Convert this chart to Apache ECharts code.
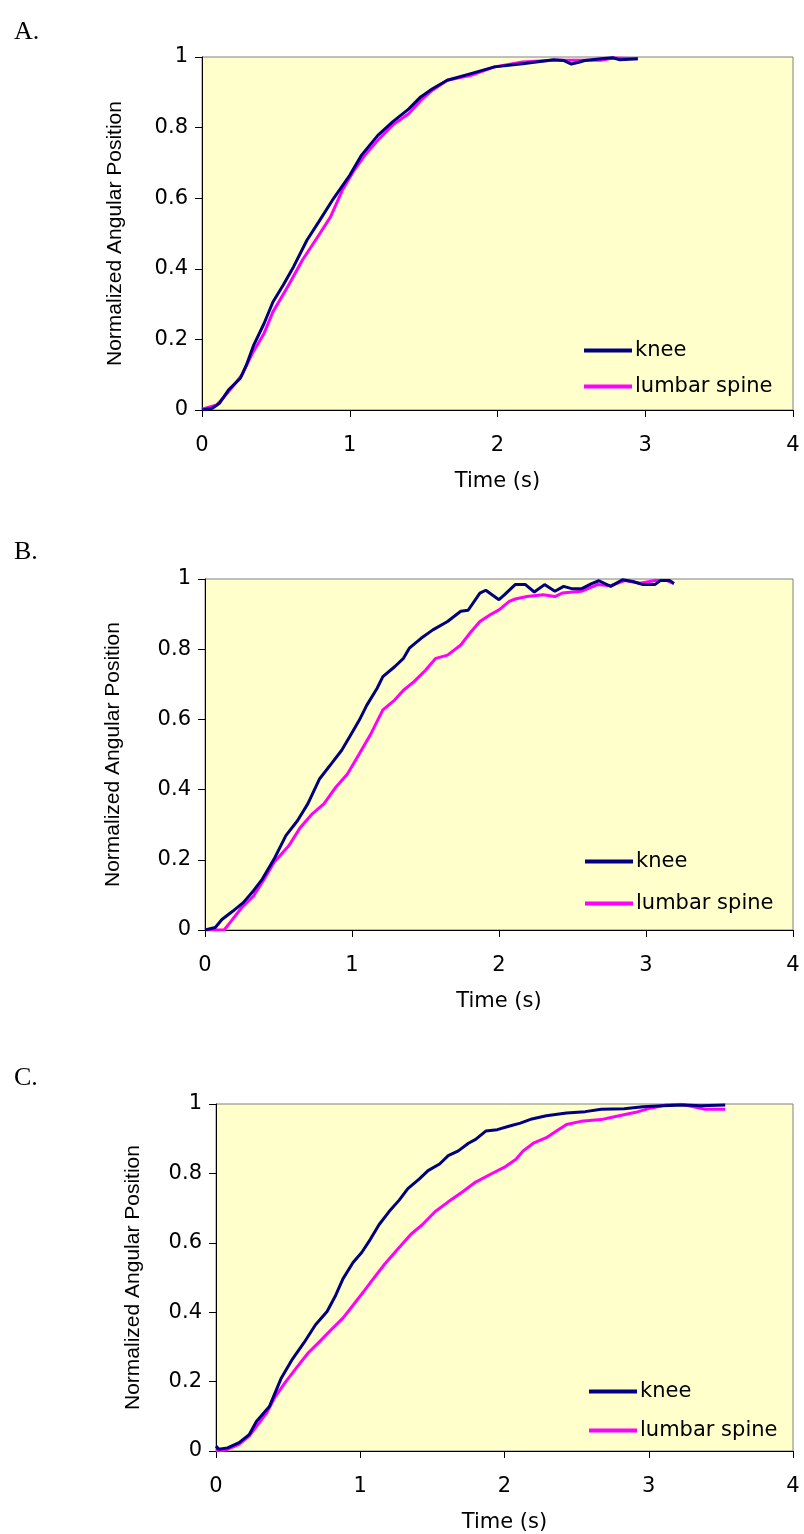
<!DOCTYPE html>
<html>
<head>
<meta charset="utf-8">
<script src="https://cdn.jsdelivr.net/npm/echarts@6/dist/echarts.min.js"></script>
<style>
html,body{margin:0;padding:0;background:#fff;}
#chart{width:804px;height:1534px;}
</style>
</head>
<body>
<div id="chart"></div>
<script>
// ---- data (time in s, normalized angular position) ----
var panelLabels = ['A.', 'B.', 'C.'];
var seriesNames = ['knee', 'lumbar spine'];
var xTicks = [0, 1, 2, 3, 4];
var yTicks = [0, 0.2, 0.4, 0.6, 0.8, 1];

var kneeA = [[0,0],[0.07,0.005],[0.12,0.02],[0.18,0.057],[0.26,0.09],[0.30,0.127],[0.35,0.184],[0.42,0.245],[0.48,0.306],[0.55,0.354],[0.62,0.406],[0.71,0.481],[0.79,0.533],[0.89,0.599],[1.0,0.665],[1.08,0.722],[1.19,0.778],[1.29,0.816],[1.40,0.853],[1.48,0.887],[1.56,0.910],[1.66,0.934],[1.82,0.953],[1.98,0.972],[2.17,0.981],[2.38,0.992],[2.45,0.99],[2.50,0.98],[2.55,0.985],[2.59,0.99],[2.70,0.995],[2.78,0.998],[2.83,0.992],[2.95,0.995]];
var lumbarA = [[0,0.002],[0.10,0.014],[0.18,0.052],[0.27,0.099],[0.34,0.16],[0.42,0.217],[0.48,0.278],[0.58,0.349],[0.68,0.425],[0.79,0.495],[0.87,0.547],[0.95,0.623],[1.03,0.679],[1.11,0.726],[1.19,0.764],[1.29,0.807],[1.40,0.840],[1.48,0.877],[1.56,0.906],[1.66,0.934],[1.82,0.948],[1.98,0.972],[2.17,0.986],[2.38,0.991],[2.51,0.991],[2.70,0.991],[2.78,0.997],[2.95,0.995]];

var kneeB = [[0,0],[0.07,0.007],[0.115,0.03],[0.19,0.054],[0.26,0.078],[0.33,0.112],[0.39,0.145],[0.47,0.202],[0.55,0.269],[0.63,0.312],[0.70,0.360],[0.78,0.431],[0.86,0.474],[0.93,0.512],[0.99,0.555],[1.05,0.598],[1.10,0.640],[1.17,0.688],[1.21,0.722],[1.29,0.750],[1.35,0.774],[1.39,0.803],[1.47,0.831],[1.55,0.855],[1.65,0.879],[1.74,0.908],[1.79,0.911],[1.87,0.960],[1.91,0.968],[1.95,0.956],[2.00,0.941],[2.04,0.956],[2.11,0.984],[2.18,0.984],[2.24,0.963],[2.31,0.984],[2.38,0.965],[2.44,0.979],[2.50,0.972],[2.56,0.972],[2.63,0.987],[2.68,0.995],[2.76,0.979],[2.84,0.998],[2.91,0.993],[2.98,0.984],[3.06,0.984],[3.10,0.996],[3.16,0.996],[3.19,0.987]];
var lumbarB = [[0,0],[0.13,0.0],[0.17,0.021],[0.25,0.064],[0.33,0.097],[0.41,0.150],[0.47,0.193],[0.57,0.240],[0.65,0.293],[0.73,0.331],[0.81,0.360],[0.89,0.407],[0.97,0.445],[1.05,0.502],[1.13,0.560],[1.21,0.627],[1.29,0.655],[1.35,0.683],[1.42,0.707],[1.50,0.740],[1.57,0.774],[1.65,0.783],[1.74,0.812],[1.81,0.850],[1.87,0.879],[1.94,0.898],[2.00,0.912],[2.07,0.936],[2.11,0.943],[2.19,0.950],[2.30,0.955],[2.38,0.950],[2.43,0.960],[2.56,0.965],[2.67,0.984],[2.76,0.981],[2.86,0.996],[2.96,0.988],[3.06,0.996],[3.14,0.996],[3.19,0.987]];

var kneeC = [[0,0.014],[0.02,0.005],[0.08,0.009],[0.16,0.024],[0.23,0.047],[0.28,0.085],[0.37,0.128],[0.45,0.208],[0.53,0.265],[0.61,0.312],[0.69,0.364],[0.77,0.402],[0.83,0.449],[0.88,0.496],[0.95,0.543],[1.01,0.572],[1.07,0.610],[1.13,0.652],[1.20,0.690],[1.27,0.723],[1.33,0.756],[1.41,0.784],[1.47,0.808],[1.55,0.827],[1.61,0.851],[1.68,0.865],[1.75,0.887],[1.80,0.898],[1.87,0.922],[1.95,0.926],[2.03,0.936],[2.11,0.945],[2.19,0.957],[2.29,0.966],[2.43,0.974],[2.56,0.978],[2.67,0.985],[2.83,0.986],[2.96,0.992],[3.09,0.995],[3.25,0.997],[3.36,0.995],[3.53,0.997]];
var lumbarC = [[0,0],[0.07,0.003],[0.16,0.019],[0.23,0.043],[0.29,0.076],[0.35,0.109],[0.41,0.156],[0.48,0.198],[0.56,0.241],[0.64,0.283],[0.72,0.316],[0.80,0.350],[0.88,0.383],[0.95,0.420],[1.03,0.463],[1.09,0.496],[1.17,0.539],[1.25,0.577],[1.35,0.624],[1.43,0.652],[1.52,0.690],[1.61,0.718],[1.71,0.747],[1.80,0.775],[1.91,0.799],[2.00,0.818],[2.08,0.841],[2.13,0.865],[2.20,0.887],[2.29,0.903],[2.36,0.922],[2.43,0.941],[2.53,0.950],[2.67,0.955],[2.77,0.964],[2.91,0.976],[3.01,0.988],[3.12,0.997],[3.23,0.999],[3.31,0.992],[3.39,0.985],[3.53,0.985]];

var panelData = [[kneeA, lumbarA], [kneeB, lumbarB], [kneeC, lumbarC]];

// ---- layout ----
var grids = [
  {left: 202, top: 57, width: 591, height: 353},
  {left: 205, top: 579, width: 588, height: 351},
  {left: 216, top: 1104, width: 577, height: 352}
];
var titleTops = [14, 534, 1060];
var legendPos = [{left: 584, top: 340}, {left: 585, top: 851}, {left: 589, top: 1381}];
var legendGaps = [15, 21, 18];
var yNameGaps = [76, 81, 72];
var colors = ['#000080', '#FF00FF'];
var FONT = '"DejaVu Sans", Verdana, sans-serif';
var VFONT = '"Liberation Sans", Arial, sans-serif';

var option = {
  animation: false,
  backgroundColor: '#ffffff',
  title: [],
  legend: [],
  grid: [],
  xAxis: [],
  yAxis: [],
  series: []
};

for (var i = 0; i < 3; i++) {
  option.title.push({
    text: panelLabels[i], left: 9, top: titleTops[i],
    textStyle: {fontFamily: '"Liberation Serif", "Times New Roman", serif', fontSize: 26, fontWeight: 'normal', color: '#000'}
  });
  option.grid.push(Object.assign({
    show: true, backgroundColor: '#FFFFCC', borderColor: '#808080', borderWidth: 1
  }, grids[i]));
  option.xAxis.push({
    type: 'value', gridIndex: i, min: xTicks[0], max: xTicks[xTicks.length - 1], interval: 1,
    name: 'Time (s)', nameLocation: 'middle', nameGap: 61,
    nameTextStyle: {fontFamily: FONT, fontSize: 21, color: '#000'},
    axisLine: {show: true, onZero: false, lineStyle: {color: '#000', width: 1}},
    axisTick: {show: true, length: 7, lineStyle: {color: '#000'}},
    axisLabel: {fontFamily: FONT, fontSize: 21, color: '#000', margin: 25},
    splitLine: {show: false}
  });
  option.yAxis.push({
    type: 'value', gridIndex: i, min: yTicks[0], max: yTicks[yTicks.length - 1], interval: 0.2,
    name: 'Normalized Angular Position', nameLocation: 'middle', nameGap: yNameGaps[i],
    nameTextStyle: {fontFamily: VFONT, fontSize: 21, color: '#000'},
    axisLine: {show: true, onZero: false, lineStyle: {color: '#000', width: 1}},
    axisTick: {show: true, length: 7, lineStyle: {color: '#000'}},
    axisLabel: {fontFamily: FONT, fontSize: 21, color: '#000', margin: 14},
    splitLine: {show: false}
  });
  for (var s = 0; s < 2; s++) {
    option.series.push({
      type: 'line', name: seriesNames[s], xAxisIndex: i, yAxisIndex: i,
      data: panelData[i][s], symbol: 'none', showSymbol: false,
      lineStyle: {color: colors[s], width: 3}, itemStyle: {color: colors[s]},
      z: s === 0 ? 3 : 2
    });
  }
  option.legend.push({
    data: seriesNames.map(function (n) { return {name: n, icon: 'rect'}; }),
    orient: 'vertical', left: legendPos[i].left, top: legendPos[i].top,
    itemWidth: 48, itemHeight: 4, itemGap: legendGaps[i], padding: 0,
    selectedMode: false,
    textStyle: {fontFamily: FONT, fontSize: 21, color: '#000', padding: [0, 0, 0, -2]}
  });
}

var chart = echarts.init(document.getElementById('chart'), null, {renderer: 'canvas'});
chart.setOption(option);
</script>
</body>
</html>
